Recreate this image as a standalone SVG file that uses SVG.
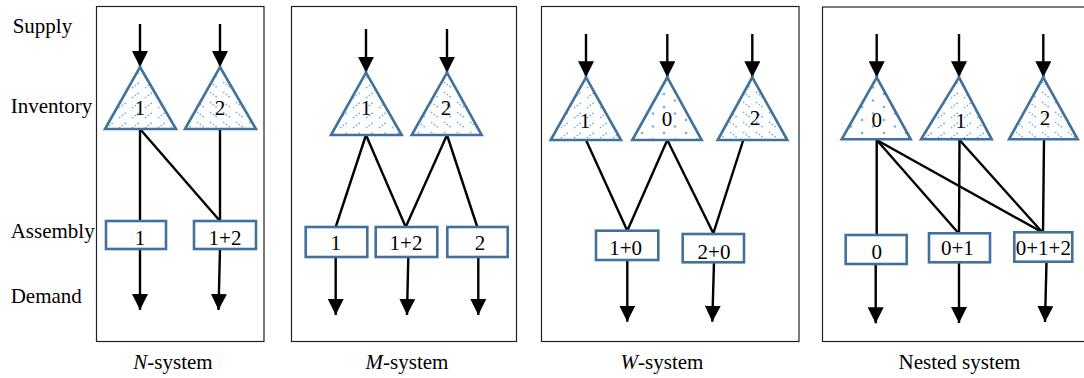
<svg xmlns="http://www.w3.org/2000/svg" width="1084" height="378" viewBox="0 0 1084 378">
<style>
text{font-family:"Liberation Serif","Times New Roman",serif;font-size:21px;fill:#000}
.lbl{text-anchor:middle}
.panel{fill:#fff;stroke:#222;stroke-width:1.2}
.tri{stroke:#41719C;stroke-width:2.6;stroke-linejoin:miter}
.fw{fill:url(#hatchF)}
.bw{fill:url(#hatchB)}
.dt{fill:url(#dots)}
.box{fill:#fff;stroke:#41719C;stroke-width:2.6}
.ln{stroke:#000;stroke-width:2.4;fill:none}
.ar{stroke:#000;stroke-width:2.4;fill:none;marker-end:url(#ah)}
</style>
<defs>
<marker id="ah" markerUnits="userSpaceOnUse" markerWidth="16" markerHeight="16" refX="15" refY="7.5" orient="auto" viewBox="0 0 15 15">
<path d="M0,0 L15,7.5 L0,15 z" fill="#000"/>
</marker>
<pattern id="hatchF" patternUnits="userSpaceOnUse" width="13" height="10">
<rect width="13" height="10" fill="#fff"/>
<line x1="2" y1="8" x2="10" y2="2" stroke="#7EAEE0" stroke-width="1.5" stroke-dasharray="1.6 1.8"/>
</pattern>
<pattern id="hatchB" patternUnits="userSpaceOnUse" width="13" height="10">
<rect width="13" height="10" fill="#fff"/>
<line x1="2" y1="2" x2="10" y2="8" stroke="#7EAEE0" stroke-width="1.5" stroke-dasharray="1.6 1.8"/>
</pattern>
<pattern id="dots" patternUnits="userSpaceOnUse" width="22" height="13">
<rect width="22" height="13" fill="#fff"/>
<circle cx="4" cy="3" r="1.3" fill="#7EAEE0"/>
<circle cx="15" cy="9.5" r="1.3" fill="#7EAEE0"/>
</pattern>
</defs>

<g id="panels">
<rect class="panel" x="96.5" y="6.5" width="167.5" height="335"/>
<rect class="panel" x="291.5" y="6.5" width="225" height="335"/>
<rect class="panel" x="541.5" y="6.5" width="257.5" height="335"/>
<rect class="panel" x="822.5" y="7" width="270" height="334.5"/>
</g>

<g id="row-labels">
<text x="12.7" y="33.3">Supply</text>
<text x="10.7" y="113.3">Inventory</text>
<text x="10.7" y="238.3">Assembly</text>
<text x="10.7" y="303.3">Demand</text>
</g>

<g id="connectors">
<!-- N-system -->
<line class="ar" x1="140" y1="24" x2="140" y2="67"/>
<line class="ar" x1="220" y1="24" x2="220" y2="67"/>
<line class="ln" x1="140" y1="129" x2="140" y2="221"/>
<line class="ln" x1="140" y1="129" x2="220" y2="221"/>
<line class="ln" x1="220" y1="129" x2="220" y2="221"/>
<line class="ar" x1="140" y1="249" x2="140" y2="310"/>
<line class="ar" x1="220" y1="249" x2="218.5" y2="310"/>
<!-- M-system -->
<line class="ar" x1="366" y1="29" x2="366" y2="72.7"/>
<line class="ar" x1="447" y1="29" x2="447" y2="72.7"/>
<line class="ln" x1="366" y1="135" x2="335.7" y2="227"/>
<line class="ln" x1="366" y1="135" x2="405.7" y2="227"/>
<line class="ln" x1="447" y1="135" x2="405.7" y2="227"/>
<line class="ln" x1="447" y1="135" x2="477.3" y2="227"/>
<line class="ar" x1="335.7" y1="257" x2="335.7" y2="315"/>
<line class="ar" x1="408.3" y1="257" x2="407" y2="315"/>
<line class="ar" x1="478.3" y1="257" x2="478.3" y2="315"/>
<!-- W-system -->
<line class="ar" x1="586" y1="34" x2="586" y2="77.3"/>
<line class="ar" x1="667.3" y1="34" x2="667.3" y2="77.3"/>
<line class="ar" x1="752.3" y1="34" x2="752.3" y2="77.3"/>
<line class="ln" x1="586" y1="140" x2="627.3" y2="230.7"/>
<line class="ln" x1="667.3" y1="140" x2="627.3" y2="230.7"/>
<line class="ln" x1="667.3" y1="140" x2="713.3" y2="233.3"/>
<line class="ln" x1="743.3" y1="140" x2="713.3" y2="233.3"/>
<line class="ar" x1="627.3" y1="260" x2="627.3" y2="321.7"/>
<line class="ar" x1="714" y1="262" x2="712.3" y2="321.7"/>
<!-- Nested system -->
<line class="ar" x1="876.7" y1="34" x2="876.7" y2="77.3"/>
<line class="ar" x1="959" y1="34" x2="959" y2="77.3"/>
<line class="ar" x1="1043.3" y1="34" x2="1043.3" y2="77.3"/>
<line class="ln" x1="876.7" y1="140" x2="876.7" y2="235"/>
<line class="ln" x1="876.7" y1="140" x2="957.7" y2="232.3"/>
<line class="ln" x1="876.7" y1="140" x2="1042.3" y2="232.3"/>
<line class="ln" x1="959.5" y1="140" x2="959" y2="233"/>
<line class="ln" x1="959.5" y1="140" x2="1042.3" y2="232.3"/>
<line class="ln" x1="1044" y1="140" x2="1043" y2="232.3"/>
<line class="ar" x1="875.7" y1="264" x2="875.7" y2="323.3"/>
<line class="ar" x1="959" y1="262" x2="959" y2="323"/>
<line class="ar" x1="1046.5" y1="262" x2="1045" y2="322"/>
</g>

<!-- N-system nodes -->
<g id="n-inv1"><polygon class="tri fw" points="140,67 176,129 105,129"/><text class="lbl" x="140" y="115">1</text></g>
<g id="n-inv2"><polygon class="tri bw" points="220,67 256,129 185,129"/><text class="lbl" x="220" y="115">2</text></g>
<g id="n-asm1"><rect class="box" x="106" y="221" width="60" height="28"/><text class="lbl" x="140" y="245">1</text></g>
<g id="n-asm12"><rect class="box" x="194" y="221" width="62" height="28"/><text class="lbl" x="225" y="245">1+2</text></g>

<!-- M-system nodes -->
<g id="m-inv1"><polygon class="tri fw" points="366,72.7 401.7,135 331,135"/><text class="lbl" x="366" y="115">1</text></g>
<g id="m-inv2"><polygon class="tri bw" points="447,72.7 481.7,135 411.7,135"/><text class="lbl" x="446" y="115">2</text></g>
<g id="m-asm1"><rect class="box" x="305.7" y="227" width="61.6" height="30"/><text class="lbl" x="335.7" y="250">1</text></g>
<g id="m-asm12"><rect class="box" x="375.7" y="227" width="61.6" height="30"/><text class="lbl" x="406" y="250">1+2</text></g>
<g id="m-asm2"><rect class="box" x="447.3" y="227" width="60.4" height="30"/><text class="lbl" x="480" y="250">2</text></g>

<!-- W-system nodes -->
<g id="w-inv1"><polygon class="tri fw" points="586,77.3 621,140 550.7,140"/><text class="lbl" x="585" y="128.3">1</text></g>
<g id="w-inv0"><polygon class="tri dt" points="667.3,77.3 701.7,140 632.3,140"/><text class="lbl" x="667" y="125.7">0</text></g>
<g id="w-inv2"><polygon class="tri bw" points="752.3,77.3 787.3,140 717.7,140"/><text class="lbl" x="755" y="125">2</text></g>
<g id="w-asm10"><rect class="box" x="596" y="230.7" width="62.3" height="29.3"/><text class="lbl" x="625.7" y="255">1+0</text></g>
<g id="w-asm20"><rect class="box" x="682.7" y="234" width="61.3" height="28.3"/><text class="lbl" x="714" y="259">2+0</text></g>

<!-- Nested system nodes -->
<g id="s-inv0"><polygon class="tri dt" points="876.7,77.3 910.7,139.3 841.7,139.3"/><text class="lbl" x="876.7" y="126.7">0</text></g>
<g id="s-inv1"><polygon class="tri fw" points="959,77.3 991.7,139.3 921,139.3"/><text class="lbl" x="960.7" y="128.3">1</text></g>
<g id="s-inv2"><polygon class="tri bw" points="1043.3,77.3 1077.7,139.3 1009,139.3"/><text class="lbl" x="1045" y="125">2</text></g>
<g id="s-asm0"><rect class="box" x="845.7" y="235" width="61" height="29"/><text class="lbl" x="876.7" y="259">0</text></g>
<g id="s-asm01"><rect class="box" x="929" y="233.3" width="61" height="29"/><text class="lbl" x="957.3" y="255">0+1</text></g>
<g id="s-asm012"><rect class="box" x="1014.3" y="232.3" width="58" height="29.4"/><text class="lbl" x="1043.3" y="255">0+1+2</text></g>

<g id="captions">
<text class="lbl" x="173" y="369"><tspan font-style="italic">N</tspan>-system</text>
<text class="lbl" x="407" y="369"><tspan font-style="italic">M</tspan>-system</text>
<text class="lbl" x="662" y="369"><tspan font-style="italic">W</tspan>-system</text>
<text class="lbl" x="959.5" y="369">Nested system</text>
</g>
</svg>
